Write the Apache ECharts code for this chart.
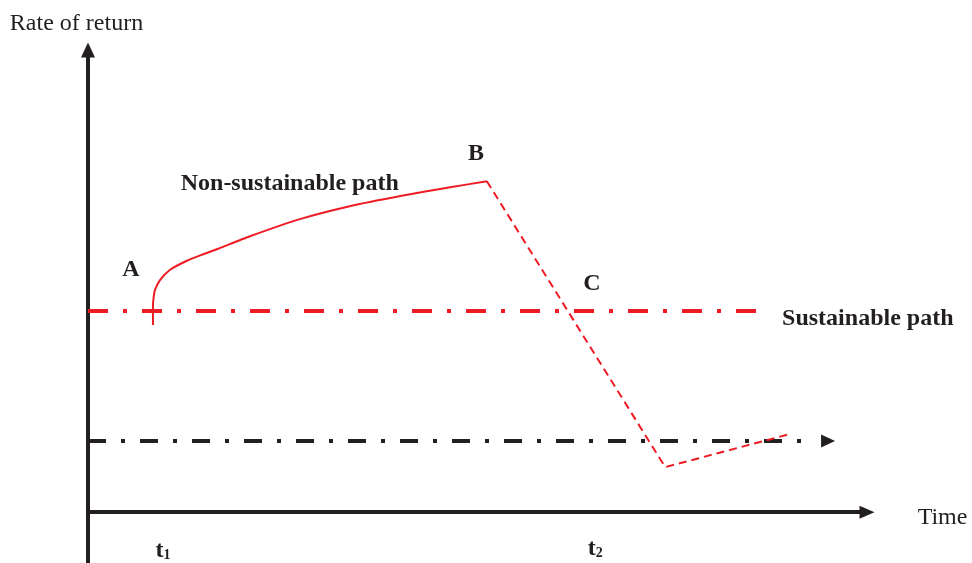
<!DOCTYPE html>
<html><head><meta charset="utf-8">
<script src="https://cdn.jsdelivr.net/npm/echarts@6/dist/echarts.min.js"></script>
<style>html,body{margin:0;padding:0;background:#fff}#c{width:972px;height:563px}</style>
</head><body><div id="c"></div>
<script>
// Non-sustainable path (A -> B), solid
const nonSustainableX = [8.34, 8.34, 8.47, 8.6, 9.24, 10.5, 12.7, 14.8, 16.7, 20.8, 27.2, 33.6, 40.1, 46.5, 51.2];
const nonSustainableY = [40.5, 44.8, 47.0, 48.1, 50.2, 52.4, 54.4, 55.8, 57.0, 59.7, 63.4, 66.2, 68.4, 70.3, 71.6];
// Collapse after B, dashed
const collapseX = [51.2, 74.1, 90.1];
const collapseY = [71.6, 9.74, 16.9];
// Sustainable path (red dash-dot)
const sustainableX = [0, 86.6];
const sustainableLevel = 43.5;
// Lower baseline (black dash-dot with arrow)
const baselineX = [0, 93.3];
const baselineArrowEnd = 95.0;
const baselineLevel = 15.4;
// Point labels
const pointLabels = ['A', 'B', 'C'];
const pointLabelX = [5.52, 49.8, 64.7];
const pointLabelY = [52.4, 77.5, 49.4];
// Path labels
const pathLabels = ['Non-sustainable path', 'Sustainable path'];
const pathLabelX = [11.9, 89.1];
const pathLabelY = [71.0, 41.8];
// Time tick labels
const tickNames = ['t', 't'];
const tickSubs = ['1', '2'];
const tickX = [9.63, 65.1];
const tickY = [-8.3, -7.9];
// Axis titles
const xAxisName = 'Time';
const xAxisNameAt = [106.5, -1.1];
const yAxisName = 'Rate of return';

const RED = '#ed1c24';
const BLACK = '#231f20';
const SERIF = '"Liberation Serif","Times New Roman",serif';

const zip = (xs, ys) => xs.map((x, i) => [x, ys[i]]);

const annotations = [];
pointLabels.forEach((t, i) => annotations.push({
  value: [pointLabelX[i], pointLabelY[i]],
  label: { formatter: t, align: 'center' }
}));
pathLabels.forEach((t, i) => annotations.push({
  value: [pathLabelX[i], pathLabelY[i]],
  label: { formatter: t, align: 'left' }
}));
tickNames.forEach((t, i) => annotations.push({
  value: [tickX[i], tickY[i]],
  label: { formatter: '{m|' + t + '}{s|' + tickSubs[i] + '}', align: 'center' }
}));
annotations.push({
  value: xAxisNameAt,
  label: { formatter: xAxisName, align: 'left', fontWeight: 'normal' }
});

const chart = echarts.init(document.getElementById('c'), null, { renderer: 'canvas' });
chart.setOption({
  animation: false,
  backgroundColor: '#fff',
  grid: { left: 88, right: 105, top: 50, bottom: 0 },
  xAxis: {
    type: 'value', min: 0, max: 100,
    axisLine: { show: true, onZero: true, symbol: ['none', 'triangle'], symbolSize: [13, 15], lineStyle: { color: BLACK, width: 4 } },
    axisTick: { show: false }, axisLabel: { show: false }, splitLine: { show: false }
  },
  yAxis: {
    type: 'value', min: -11, max: 100,
    name: yAxisName, nameLocation: 'end', nameGap: 26,
    nameTextStyle: { fontFamily: SERIF, fontSize: 24, color: BLACK, align: 'center', verticalAlign: 'middle', padding: [0, 23, 0, 0] },
    axisLine: { show: true, onZero: false, symbol: ['none', 'triangle'], symbolSize: [14, 15], lineStyle: { color: BLACK, width: 4 } },
    axisTick: { show: false }, axisLabel: { show: false }, splitLine: { show: false }
  },
  series: [
    {
      type: 'line', data: zip(baselineX, baselineX.map(() => baselineLevel)),
      symbol: 'none', silent: true,
      lineStyle: { color: BLACK, width: 4, type: [18, 15, 4, 15], cap: 'butt' },
      markLine: {
        silent: true, symbol: ['none', 'triangle'], symbolSize: [13, 14],
        label: { show: false },
        lineStyle: { color: BLACK, width: 0, opacity: 1 },
        itemStyle: { color: BLACK },
        emphasis: { disabled: true },
        data: [[{ coord: [baselineX[1], baselineLevel] }, { coord: [baselineArrowEnd, baselineLevel] }]]
      }
    },
    {
      type: 'line', data: zip(sustainableX, sustainableX.map(() => sustainableLevel)),
      symbol: 'none', silent: true,
      lineStyle: { color: RED, width: 4, type: [20, 15, 4, 15], cap: 'butt' }
    },
    {
      type: 'line', data: zip(nonSustainableX, nonSustainableY),
      symbol: 'none', silent: true, smooth: 0.2,
      lineStyle: { color: RED, width: 2 }
    },
    {
      type: 'line', data: zip(collapseX, collapseY),
      symbol: 'none', silent: true,
      lineStyle: { color: RED, width: 2, type: [8, 5] }
    },
    {
      type: 'scatter', data: annotations, symbolSize: 0, silent: true, clip: false,
      itemStyle: { opacity: 1 },
      label: {
        show: true, position: 'inside', verticalAlign: 'middle', opacity: 1,
        fontFamily: SERIF, fontSize: 24, fontWeight: 'bold', color: BLACK,
        rich: {
          m: { fontFamily: SERIF, fontSize: 24, fontWeight: 'bold', color: BLACK },
          s: { fontFamily: SERIF, fontSize: 14, fontWeight: 'bold', color: BLACK, verticalAlign: 'bottom', padding: [10, 0, 0, 0] }
        }
      }
    }
  ]
});
</script>
</body></html>
